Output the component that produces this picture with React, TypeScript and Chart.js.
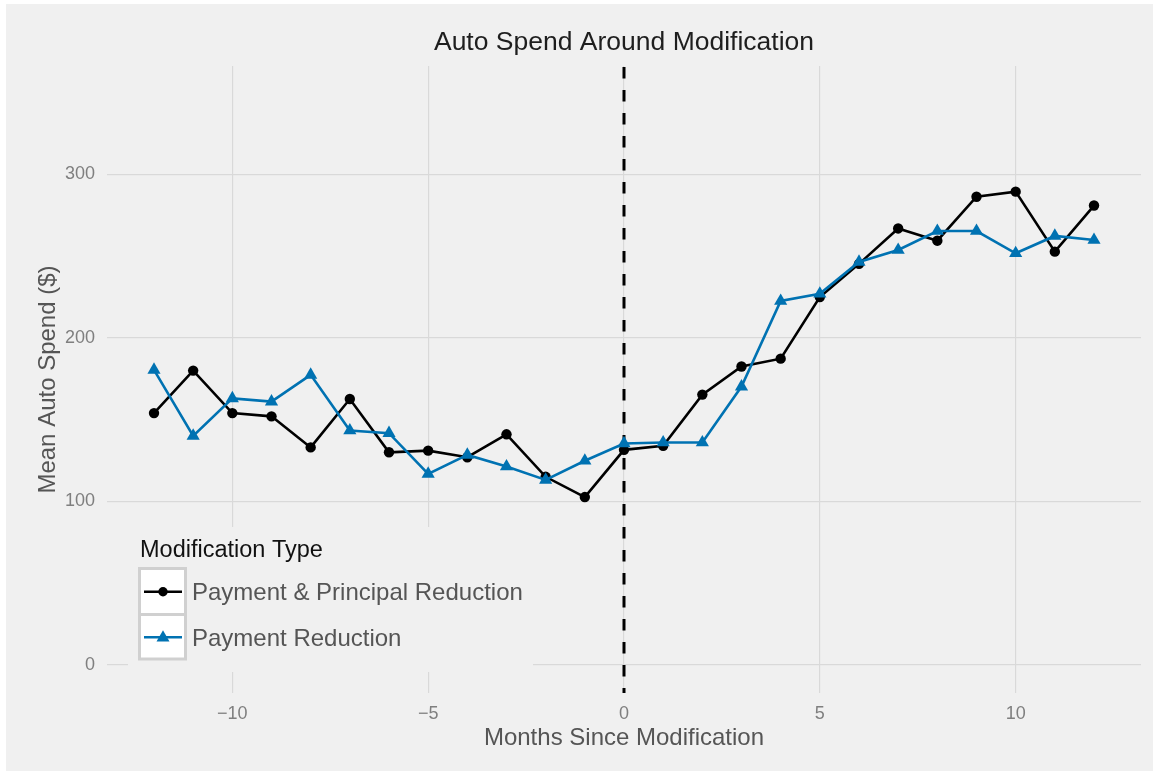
import React, { useEffect, useRef } from 'react';
import { Chart, registerables } from 'chart.js';

Chart.register(...registerables);

const MONTHS = [-12, -11, -10, -9, -8, -7, -6, -5, -4, -3, -2, -1, 0, 1, 2, 3, 4, 5, 6, 7, 8, 9, 10, 11, 12];
const PAYMENT_PRINCIPAL = [154, 180, 154, 152, 133, 162.6, 130, 131, 127, 141, 115, 102.6, 131.5, 134, 165.3, 182.5, 187.3, 225, 245.3, 267, 259.5, 286.4, 289.5, 252.8, 281];
const PAYMENT_ONLY = [180.4, 140, 163, 161, 177.4, 143.3, 141.7, 116.8, 128.4, 121.3, 113.1, 124.8, 135.4, 136, 136, 170.2, 222.6, 227, 246.5, 253.8, 265.4, 265.4, 251.8, 262.4, 259.9];
const X_TICKS = [-10, -5, 0, 5, 10];
const Y_TICKS = [0, 100, 200, 300];
const VLINE_X = 0;
const TITLE = 'Auto Spend Around Modification';
const X_TITLE = 'Months Since Modification';
const Y_TITLE = 'Mean Auto Spend ($)';
const LEGEND_TITLE = 'Modification Type';
const SERIES_LABELS = ['Payment & Principal Reduction', 'Payment Reduction'];
const SERIES_COLORS = ['#000000', '#0072B2'];

const FONT = '"Liberation Sans", Arial, Helvetica, sans-serif';
const PANEL = '#f0f0f0';
const GRID = '#d9d9d9';

const fmt = (v: number | string) => {
  const n = Number(v);
  return n < 0 ? '\u2212' + Math.abs(n) : String(n);
};

const decor = {
  id: 'decor',
  beforeDraw(chart: any) {
    const { ctx, width, height } = chart;
    ctx.save();
    ctx.fillStyle = '#ffffff';
    ctx.fillRect(0, 0, width, height);
    ctx.fillStyle = PANEL;
    ctx.fillRect(6, 4, width - 6, height - 4);
    ctx.restore();
  },
  beforeDatasetsDraw(chart: any) {
    const { ctx, chartArea } = chart;
    const x = chart.scales.x.getPixelForValue(VLINE_X);
    ctx.save();
    ctx.strokeStyle = '#000000';
    ctx.lineWidth = 3;
    ctx.setLineDash([11.5, 11.5]);
    ctx.beginPath();
    ctx.moveTo(x, chartArea.top + 1);
    ctx.lineTo(x, chartArea.bottom);
    ctx.stroke();
    ctx.restore();
  },
  afterDraw(chart: any) {
    const { ctx, chartArea } = chart;
    const cx = (chartArea.left + chartArea.right) / 2;
    const cy = (chartArea.top + chartArea.bottom) / 2;
    ctx.save();
    // main title
    ctx.fillStyle = '#1e1e1e';
    ctx.font = `26.5px ${FONT}`;
    ctx.textAlign = 'center';
    ctx.textBaseline = 'alphabetic';
    ctx.fillText(TITLE, cx, 50);
    // x title
    ctx.fillStyle = '#555555';
    ctx.font = `24px ${FONT}`;
    ctx.fillText(X_TITLE, cx, 745);
    // y title
    ctx.save();
    ctx.translate(55, cy);
    ctx.rotate(-Math.PI / 2);
    ctx.fillText(Y_TITLE, 0, 0);
    ctx.restore();

    // legend
    const lx = chartArea.left + 21;
    const ly = chartArea.bottom - 166;
    ctx.fillStyle = PANEL;
    ctx.fillRect(lx, ly, 405, 145);
    ctx.fillStyle = '#111111';
    ctx.textAlign = 'left';
    ctx.font = `23.5px ${FONT}`;
    ctx.fillText(LEGEND_TITLE, 140, 556.5);

    const rows = [{ top: 568.5, h: 46, mid: 591.7, base: 600 }, { top: 614.5, h: 44.5, mid: 637.3, base: 645.7 }];
    rows.forEach((r, i) => {
      ctx.fillStyle = '#ffffff';
      ctx.fillRect(139.5, r.top, 46, r.h);
      ctx.strokeStyle = '#d0d0d0';
      ctx.lineWidth = 3;
      ctx.strokeRect(139.5, r.top, 46, r.h);
      const col = SERIES_COLORS[i];
      ctx.strokeStyle = col;
      ctx.lineWidth = 2.6;
      ctx.beginPath();
      ctx.moveTo(144, r.mid);
      ctx.lineTo(182, r.mid);
      ctx.stroke();
      ctx.fillStyle = col;
      ctx.beginPath();
      if (i === 0) {
        ctx.arc(163, r.mid, 4.7, 0, Math.PI * 2);
      } else {
        const rad = 7.5;
        const yc = r.mid + 0.5;
        ctx.moveTo(163, yc - rad);
        ctx.lineTo(163 + rad * Math.sin((2 * Math.PI) / 3), yc - rad * Math.cos((2 * Math.PI) / 3));
        ctx.lineTo(163 + rad * Math.sin((4 * Math.PI) / 3), yc - rad * Math.cos((4 * Math.PI) / 3));
        ctx.closePath();
      }
      ctx.fill();
      ctx.fillStyle = '#555555';
      ctx.font = `24px ${FONT}`;
      ctx.fillText(SERIES_LABELS[i], 192, r.base);
    });
    ctx.restore();
  },
};

export default function App() {
  const ref = useRef<HTMLCanvasElement | null>(null);

  useEffect(() => {
    if (!ref.current) return;
    const chart = new Chart(ref.current, {
      type: 'line',
      data: {
        datasets: [
          {
            label: SERIES_LABELS[0],
            data: MONTHS.map((m, i) => ({ x: m, y: PAYMENT_PRINCIPAL[i] })),
            borderColor: SERIES_COLORS[0],
            backgroundColor: SERIES_COLORS[0],
            borderWidth: 2.6,
            pointStyle: 'circle',
            pointRadius: 5.2,
            pointBorderWidth: 0,
            tension: 0,
            order: 1,
          },
          {
            label: SERIES_LABELS[1],
            data: MONTHS.map((m, i) => ({ x: m, y: PAYMENT_ONLY[i] })),
            borderColor: SERIES_COLORS[1],
            backgroundColor: SERIES_COLORS[1],
            borderWidth: 2.6,
            pointStyle: 'triangle',
            pointRadius: 7.6,
            pointBorderWidth: 0,
            tension: 0,
            order: 0,
          },
        ],
      },
      options: {
        responsive: false,
        animation: false,
        events: [],
        layout: { padding: { top: 66, right: 12, left: 0, bottom: 0 } },
        plugins: {
          legend: { display: false },
          title: { display: false },
          tooltip: { enabled: false },
        },
        scales: {
          x: {
            type: 'linear',
            min: -13.2,
            max: 13.2,
            afterBuildTicks: (s: any) => {
              s.ticks = X_TICKS.map((v) => ({ value: v }));
            },
            afterFit: (s: any) => {
              s.height = 78;
            },
            grid: { color: GRID, lineWidth: 1.2, drawTicks: false },
            border: { display: false },
            ticks: {
              padding: 10,
              color: '#7f7f7f',
              font: { family: FONT, size: 18 },
              maxRotation: 0,
              autoSkip: false,
              callback: (v: any) => fmt(v),
            },
          },
          y: {
            type: 'linear',
            min: -17.3,
            max: 366.4,
            afterBuildTicks: (s: any) => {
              s.ticks = Y_TICKS.map((v) => ({ value: v }));
            },
            afterFit: (s: any) => {
              s.width = 107;
            },
            grid: { color: GRID, lineWidth: 1.2, drawTicks: false },
            border: { display: false },
            ticks: {
              padding: 12,
              color: '#7f7f7f',
              font: { family: FONT, size: 18 },
              autoSkip: false,
              callback: (v: any) => fmt(v),
            },
          },
        },
      },
      plugins: [decor],
    } as any);
    return () => chart.destroy();
  }, []);

  return (
    <div style={{ position: 'fixed', left: 0, top: 0, width: 1153, height: 771 }}>
      <canvas ref={ref} width={1153} height={771} style={{ display: 'block', width: 1153, height: 771 }} />
    </div>
  );
}
